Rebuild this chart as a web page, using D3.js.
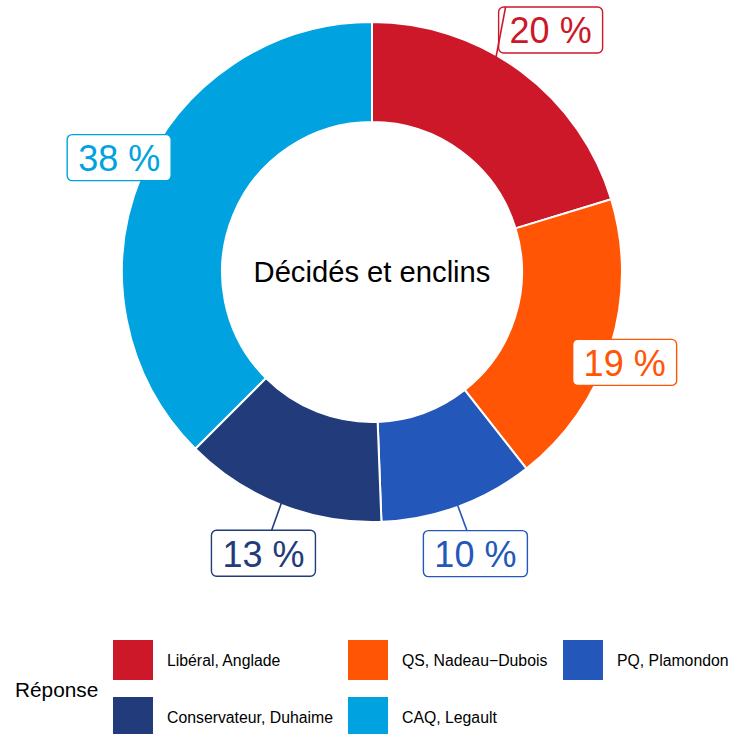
<!DOCTYPE html>
<html>
<head>
<meta charset="utf-8">
<script src="https://cdn.jsdelivr.net/npm/d3@7"></script>
<style>
  body { margin: 0; background: #fff; }
  svg { display: block; font-family: "Liberation Sans", Arial, sans-serif; }
</style>
</head>
<body>
<svg id="chart" width="732" height="734"></svg>
<script>
// data
const partis = ['Libéral, Anglade', 'QS, Nadeau\u2212Dubois', 'PQ, Plamondon', 'Conservateur, Duhaime', 'CAQ, Legault'];
const parts = [20.3, 19.1, 10.0, 13.1, 37.5];
const etiquettes = ['20 %', '19 %', '10 %', '13 %', '38 %'];
const couleurs = ['#CD1829', '#FF5505', '#2457BA', '#223B7A', '#00A3E0'];
const titreCentre = 'Décidés et enclins';
const titreLegende = 'Réponse';

// layout
const cx = 372, cy = 272;
const outerR = 250, innerR = 150;
const labelR = [300, 268, 300, 300, 278];
const labelNudge = [[0, -1], [-3, 10], [0, 0], [1, 2], [4, -8]];
const hasLeader = [true, false, true, true, false];

const svg = d3.select('#chart');
const g = svg.append('g').attr('transform', `translate(${cx},${cy})`);

const pie = d3.pie().sort(null).value(d => d)(parts);
const arc = d3.arc().innerRadius(innerR).outerRadius(outerR);

g.selectAll('path.slice')
  .data(pie)
  .enter()
  .append('path')
  .attr('class', 'slice')
  .attr('d', arc)
  .attr('fill', (d, i) => couleurs[i])
  .attr('stroke', '#fff')
  .attr('stroke-width', 2);

g.append('text')
  .attr('x', 0)
  .attr('y', 0)
  .attr('text-anchor', 'middle')
  .attr('dominant-baseline', 'central')
  .attr('font-size', 29.2)
  .attr('fill', '#000')
  .text(titreCentre);

const polar = (a, r) => [r * Math.sin(a), -r * Math.cos(a)];

const labels = pie.map((d, i) => {
  const mid = (d.startAngle + d.endAngle) / 2;
  const p = polar(mid, labelR[i]);
  return { i, mid, x: p[0] + labelNudge[i][0], y: p[1] + labelNudge[i][1] };
});

const boxW = 104, boxH = 46;

// leader lines (drawn under the boxes)
labels.filter(l => hasLeader[l.i] && l.i !== 0).forEach(l => {
  const s = polar(l.mid, outerR - 2);
  g.append('line')
    .attr('x1', s[0]).attr('y1', s[1])
    .attr('x2', l.x).attr('y2', l.y)
    .attr('stroke', couleurs[l.i])
    .attr('stroke-width', 1.6);
});

const lg = g.selectAll('g.lab')
  .data(labels)
  .enter()
  .append('g')
  .attr('class', 'lab')
  .attr('transform', d => `translate(${d.x},${d.y})`);

lg.append('rect')
  .attr('x', -boxW / 2)
  .attr('y', -boxH / 2)
  .attr('width', boxW)
  .attr('height', boxH)
  .attr('rx', 5)
  .attr('fill', '#fff')
  .attr('stroke', d => couleurs[d.i])
  .attr('stroke-width', 1.4);

lg.append('text')
  .attr('text-anchor', 'middle')
  .attr('dominant-baseline', 'central')
  .attr('y', 1)
  .attr('font-size', 36)
  .attr('fill', d => couleurs[d.i])
  .text(d => etiquettes[d.i]);

// Libéral leader runs up over the left edge of its box
{
  const l = labels[0];
  const s = polar(30 * Math.PI / 180, outerR - 2);
  g.append('line')
    .attr('x1', s[0]).attr('y1', s[1])
    .attr('x2', l.x - boxW / 2 + 7).attr('y2', l.y - boxH / 2)
    .attr('stroke', couleurs[0])
    .attr('stroke-width', 1.6);
}

// legend
const legX = [113, 348, 563];
const legY = [640, 697];
const keySize = 40;
const leg = svg.append('g');

leg.append('text')
  .attr('x', 15)
  .attr('y', 689)
  .attr('dominant-baseline', 'central')
  .attr('font-size', 20.8)
  .attr('fill', '#000')
  .text(titreLegende);

const items = leg.selectAll('g.item')
  .data(partis)
  .enter()
  .append('g')
  .attr('class', 'item')
  .attr('transform', (d, i) => `translate(${legX[i % 3]},${legY[Math.floor(i / 3)]})`);

items.append('rect')
  .attr('width', keySize)
  .attr('height', keySize)
  .attr('fill', (d, i) => couleurs[i]);

items.append('text')
  .attr('x', keySize + 14)
  .attr('y', keySize / 2)
  .attr('dominant-baseline', 'central')
  .attr('font-size', 15.8)
  .attr('fill', '#000')
  .text(d => d);
</script>
</body>
</html>
